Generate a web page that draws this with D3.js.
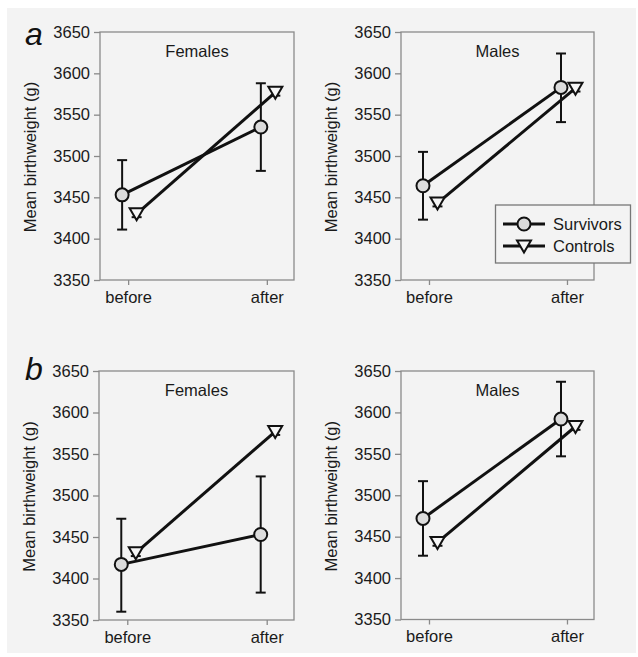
<!DOCTYPE html>
<html><head><meta charset="utf-8">
<script src="https://cdn.jsdelivr.net/npm/d3@7"></script>
<style>body{margin:0;background:#fff}svg{display:block}</style>
</head><body>
<script>
const phases = ["before", "after"];
const yTicks = [3350, 3400, 3450, 3500, 3550, 3600, 3650];
const panelTitles = ["Females", "Males", "Females", "Males"];
const panelLetters = ["a", "", "b", ""];
const survivorsMean = [[3453, 3535], [3464, 3583], [3417, 3453], [3472, 3592]];
const survivorsLow  = [[3411, 3482], [3423, 3541], [3360, 3383], [3427, 3547]];
const survivorsHigh = [[3495, 3588], [3505, 3624], [3472, 3523], [3517, 3637]];
const controlsMean  = [[3430, 3577], [3443, 3582], [3431, 3577], [3443, 3583]];
const controlsErr   = [[4, 4], [4, 4], [4, 4], [4, 4]];
const legendLabels = ["Survivors", "Controls"];

const W = 638, H = 657;
const svg = d3.select("body").append("svg").attr("width", W).attr("height", H);
svg.append("rect").attr("x", 7).attr("y", 8).attr("width", 629).attr("height", 645).attr("fill", "#f3f3f3");

const font = "Arial, 'Liberation Sans', sans-serif";
const fs = 16.5;
const panels = [
  {x0: 100, x1: 294, y0: 32, y1: 280, ly: 45},
  {x0: 401, x1: 594, y0: 32, y1: 280},
  {x0: 99, x1: 294, y0: 371, y1: 620, ly: 380},
  {x0: 401, x1: 594, y0: 371, y1: 619.5}
];

const symCircle = (g, x, y) => g.append("circle").attr("cx", x).attr("cy", y).attr("r", 6.5)
  .attr("fill", "#dcdcdc").attr("stroke", "#111").attr("stroke-width", 2);
const symTri = (g, x, y) => g.append("path")
  .attr("d", `M${x-7},${y-5.5}L${x+7},${y-5.5}L${x},${y+6.5}Z`)
  .attr("fill", "#f6f6f6").attr("stroke", "#111").attr("stroke-width", 2).attr("stroke-linejoin", "miter");

panels.forEach((p, i) => {
  const g = svg.append("g");
  const y = d3.scaleLinear().domain([3350, 3650]).range([p.y1, p.y0]);
  const w = p.x1 - p.x0;
  const x = d3.scalePoint().domain(phases).range([p.x0 + w * 0.145, p.x1 - w * 0.14]);

  g.append("rect").attr("x", p.x0).attr("y", p.y0).attr("width", w).attr("height", p.y1 - p.y0)
    .attr("fill", "none").attr("stroke", "#8a8a8a").attr("stroke-width", 1.3);

  const yAxis = g.append("g").attr("transform", `translate(${p.x0},0)`)
    .call(d3.axisLeft(y).tickValues(yTicks).tickSize(6).tickPadding(4).tickFormat(d3.format("d")));
  yAxis.select(".domain").remove();
  yAxis.selectAll("line").attr("stroke", "#8a8a8a").attr("stroke-width", 1.3);
  yAxis.selectAll("text").attr("font-family", font).attr("font-size", fs).attr("fill", "#1a1a1a");

  const xAxis = g.append("g").attr("transform", `translate(0,${p.y1})`)
    .call(d3.axisBottom(x).tickSize(5).tickPadding(6));
  xAxis.select(".domain").remove();
  xAxis.selectAll("line").attr("stroke", "#8a8a8a").attr("stroke-width", 1.3);
  xAxis.selectAll("text").attr("font-family", font).attr("font-size", fs).attr("fill", "#1a1a1a");

  g.append("text").attr("transform", `translate(${p.x0 - 70},${(p.y0 + p.y1) / 2 + 1}) rotate(-90)`)
    .attr("text-anchor", "middle").attr("dy", "0.35em")
    .attr("font-family", font).attr("font-size", fs).attr("fill", "#1a1a1a").text("Mean birthweight (g)");

  g.append("text").attr("x", p.x0 + w * 0.5).attr("y", p.y0 + 25).attr("text-anchor", "middle")
    .attr("font-family", font).attr("font-size", fs).attr("fill", "#1a1a1a").text(panelTitles[i]);

  if (panelLetters[i]) {
    g.append("text").attr("x", 25).attr("y", p.ly).attr("font-family", font)
      .attr("font-style", "italic").attr("font-size", 32).attr("fill", "#111").text(panelLetters[i]);
  }

  const offC = -6, offT = 8.5;
  const line = d3.line();
  g.append("path").attr("d", line(phases.map((ph, k) => [x(ph) + offC, y(survivorsMean[i][k])])))
    .attr("fill", "none").attr("stroke", "#111").attr("stroke-width", 3);
  g.append("path").attr("d", line(phases.map((ph, k) => [x(ph) + offT, y(controlsMean[i][k])])))
    .attr("fill", "none").attr("stroke", "#111").attr("stroke-width", 3);

  phases.forEach((ph, k) => {
    const cx = x(ph) + offC;
    g.append("line").attr("x1", cx).attr("x2", cx).attr("y1", y(survivorsLow[i][k])).attr("y2", y(survivorsHigh[i][k]))
      .attr("stroke", "#111").attr("stroke-width", 2);
    [survivorsLow[i][k], survivorsHigh[i][k]].forEach(v => {
      g.append("line").attr("x1", cx - 5).attr("x2", cx + 5).attr("y1", y(v)).attr("y2", y(v))
        .attr("stroke", "#111").attr("stroke-width", 2);
    });
    const tx = x(ph) + offT;
    const m = controlsMean[i][k], e = controlsErr[i][k];
    g.append("line").attr("x1", tx).attr("x2", tx).attr("y1", y(m - e)).attr("y2", y(m + e))
      .attr("stroke", "#111").attr("stroke-width", 2);
    [m - e, m + e].forEach(v => {
      g.append("line").attr("x1", tx - 5).attr("x2", tx + 5).attr("y1", y(v)).attr("y2", y(v))
        .attr("stroke", "#111").attr("stroke-width", 2);
    });
  });
  phases.forEach((ph, k) => {
    symTri(g, x(ph) + offT, y(controlsMean[i][k]));
    symCircle(g, x(ph) + offC, y(survivorsMean[i][k]));
  });

  if (i === 1) {
    const lg = svg.append("g");
    lg.append("rect").attr("x", 495.5).attr("y", 205).attr("width", 135).attr("height", 58)
      .attr("fill", "#f3f3f3").attr("stroke", "#777").attr("stroke-width", 1.3);
    legendLabels.forEach((lab, j) => {
      const ly = 224 + j * 22;
      lg.append("line").attr("x1", 503).attr("x2", 545).attr("y1", ly).attr("y2", ly)
        .attr("stroke", "#111").attr("stroke-width", 3);
      if (j === 0) symCircle(lg, 524, ly); else symTri(lg, 524, ly);
      lg.append("text").attr("x", 553).attr("y", ly).attr("dy", "0.35em")
        .attr("font-family", font).attr("font-size", fs).attr("fill", "#1a1a1a").text(lab);
    });
  }
});
</script>
</body></html>
